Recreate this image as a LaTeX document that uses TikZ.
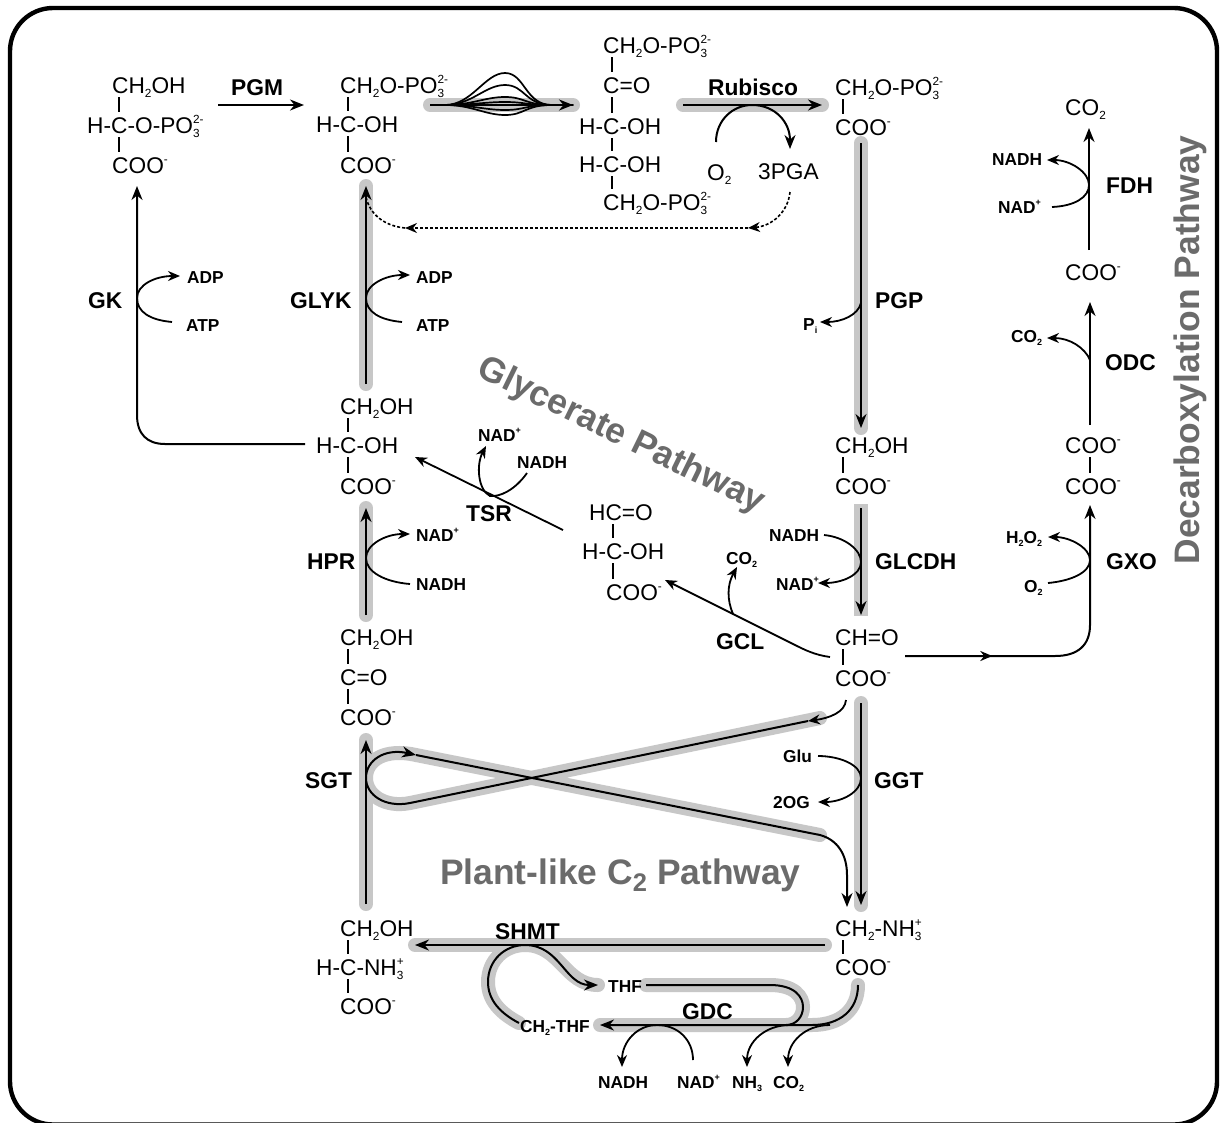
\documentclass[tikz,border=0pt]{standalone}
\usepackage{fontspec}
\usepackage{graphicx}
\setmainfont{Liberation Sans}
\usetikzlibrary{arrows.meta,calc,decorations.markings}
\definecolor{hlgray}{gray}{0.78}
\definecolor{pathgray}{gray}{0.42}
\newcommand\sbs[1]{\raisebox{-.2em}{\scalebox{.52}{#1}}}
\newcommand\sps[1]{\raisebox{.42em}{\scalebox{.52}{#1}}}
\newcommand\sbsp[2]{\makebox[0pt][l]{\sps{#2}}\sbs{#1}}
\newcommand\bond[3]{\coordinate (tmpb) at ([shift={(0,-21)}]#2.base);\draw[bondline] ([shift={(#3,4)}]#1.base west) -- ([shift={(#3,0)}]#1.base west |- tmpb);}
\newcommand\Pt[3]{\coordinate (#1) at (#2,#3);}
\newcommand\CHEM[4]{\node[chem] (#1) at (#2,#3) {#4};}
\newcommand\ENZ[4]{\node[enz] (#1) at (#2,#3) {#4};}
\newcommand\COF[4]{\node[cof] (#1) at (#2,#3) {#4};}
\tikzset{
  chem/.style={inner sep=0pt,anchor=base west,font=\fontsize{22.7}{22.7}\selectfont},
  enz/.style={inner sep=0pt,anchor=base west,font=\fontsize{22.8}{22.8}\selectfont\bfseries},
  cof/.style={inner sep=0pt,anchor=base west,font=\fontsize{17.3}{17.3}\selectfont\bfseries},
  pathlabel/.style={inner sep=0pt,text=pathgray,font=\fontsize{35.4}{35.4}\selectfont\bfseries},
  bondline/.style={line width=1.7pt,color=black},
  hl/.style={line width=14pt,color=hlgray,line cap=round},
  hlbutt/.style={line width=14pt,color=hlgray},
  mainarrow/.style={line width=2pt,color=black,-{Stealth[length=14pt,width=11pt]}},
  thinarrow/.style={line width=1.8pt,color=black,-{Stealth[length=12pt,width=10pt]}},
  plainline/.style={line width=2pt,color=black},
  dashline/.style={line width=1.6pt,color=black,dash pattern=on 3pt off 2pt},
}
\begin{document}
\begin{tikzpicture}[x=1pt,y=-1pt]
\useasboundingbox (0,0) rectangle (1222,1122);
\fill[white] (0,0) rectangle (1222,1122);
\begin{scope}
\clip (0,0) rectangle (1222,1122);
\draw[line width=4.4pt,rounded corners=43pt] (10,8) rectangle (1217,1124.5);
\end{scope}

% ---------- named ends of the connectors
\Pt{rua}{430}{105}\Pt{rub}{573}{105}
\Pt{rba}{683}{105}\Pt{rbb}{822}{105}
\Pt{pgma}{218}{105}\Pt{pgmb}{304}{105}
\Pt{gkup}{137}{186}\Pt{gkout}{305}{444}
\Pt{glykb}{366}{384}\Pt{glykt}{366}{186}
\Pt{pgpt}{861}{143}\Pt{pgpb}{861}{428}
\Pt{glct}{861}{508}\Pt{glcb}{861}{615}
\Pt{hprb}{366}{615}\Pt{hprt}{366}{508}
\Pt{sgtb}{366}{904}\Pt{sgtt}{366}{740}
\Pt{ggtt}{861}{703}\Pt{ggtb}{861}{905}
\Pt{shr}{825}{945}\Pt{shl}{415}{945}
\Pt{la}{820}{718}\Pt{lb}{808}{721}\Pt{lc}{416}{755}\Pt{ld}{820}{835}\Pt{le}{847}{907}
\Pt{gdct}{646}{985}\Pt{gdce}{786}{1025}
\Pt{gdcs}{858}{985}\Pt{gdcl}{600}{1025}
\Pt{thft}{598}{985}\Pt{chta}{519}{1023}

% ---------- grey highlights
\draw[hl] (rua) -- (rub);
\draw[hl] (rba) -- (rbb);
\draw[hl] (glykb) -- (glykt);
\draw[hl] (pgpt) -- (pgpb);
\draw[hlbutt] (861,504) -- (861,616);
\draw[hl] (hprb) -- (hprt);
\draw[hl] (sgtb) -- (sgtt);
\draw[hl] (ggtt) -- (ggtb);
\draw[hl] (shr) -- (shl);
\draw[hl] (la) -- (410,803) .. controls (385,808) and (366,795) .. (366,778) .. controls (366,760) and (385,748) .. (lc) -- (ld);
\draw[hl] (chta) .. controls (500,1013) and (488,1000) .. (488,982) .. controls (488,960) and (505,945) .. (525,945) .. controls (560,945) and (565,985) .. (thft);
\draw[hl] (gdct) -- (770,985) .. controls (795,985) and (803,997) .. (803,1007) .. controls (803,1017) and (796,1025) .. (gdce);
\draw[hl] (gdcs) .. controls (858,1010) and (840,1025) .. (812,1025) -- (gdcl);

% ---------- molecules
\CHEM{aa}{112}{93}{CH\sbs{2}OH}
\CHEM{ab}{87}{133}{H-C-O-PO\sbsp{3}{2-}}
\CHEM{ac}{112}{173}{COO\sps{-}}
\bond{aa}{ab}{7}\bond{ab}{ac}{32}
\CHEM{ba}{340}{93}{CH\sbs{2}O-PO\sbsp{3}{2-}}
\CHEM{bb}{316}{132}{H-C-OH}
\CHEM{bc}{340}{173}{COO\sps{-}}
\bond{ba}{bb}{8}\bond{bb}{bc}{32}
\CHEM{ca}{603}{53}{CH\sbs{2}O-PO\sbsp{3}{2-}}
\CHEM{cb}{603}{93}{C=O}
\CHEM{cc}{579}{134}{H-C-OH}
\CHEM{cd}{579}{172}{H-C-OH}
\CHEM{ce}{603}{210}{CH\sbs{2}O-PO\sbsp{3}{2-}}
\bond{ca}{cb}{9}\bond{cb}{cc}{9}\bond{cc}{cd}{33}\bond{cd}{ce}{33}
\CHEM{da}{835}{95}{CH\sbs{2}O-PO\sbsp{3}{2-}}
\CHEM{db}{835}{135}{COO\sps{-}}
\bond{da}{db}{8}
\CHEM{ea}{835}{453}{CH\sbs{2}OH}
\CHEM{eb}{835}{494}{COO\sps{-}}
\bond{ea}{eb}{8}
\CHEM{fa}{835}{645}{CH=O}
\CHEM{fb}{835}{686}{COO\sps{-}}
\bond{fa}{fb}{8}
\CHEM{ga}{835}{936}{CH\sbs{2}-NH\sbsp{3}{+}}
\CHEM{gb}{835}{975}{COO\sps{-}}
\bond{ga}{gb}{8}
\CHEM{ha}{340}{936}{CH\sbs{2}OH}
\CHEM{hb}{316}{975}{H-C-NH\sbsp{3}{+}}
\CHEM{hc}{340}{1014}{COO\sps{-}}
\bond{ha}{hb}{8}\bond{hb}{hc}{32}
\CHEM{ia}{340}{645}{CH\sbs{2}OH}
\CHEM{ib}{340}{685}{C=O}
\CHEM{ic}{340}{725}{COO\sps{-}}
\bond{ia}{ib}{8}\bond{ib}{ic}{8}
\CHEM{ja}{340}{414}{CH\sbs{2}OH}
\CHEM{jb}{316}{453}{H-C-OH}
\CHEM{jc}{340}{494}{COO\sps{-}}
\bond{ja}{jb}{8}\bond{jb}{jc}{32}
\CHEM{ka}{589}{520}{HC=O}
\CHEM{kb}{582}{559}{H-C-OH}
\CHEM{kc}{606}{600}{COO\sps{-}}
\bond{ka}{kb}{24}\bond{kb}{kc}{31}
\CHEM{la1}{1065}{453}{COO\sps{-}}
\CHEM{la2}{1065}{494}{COO\sps{-}}
\bond{la1}{la2}{25}
\CHEM{ma}{1065}{280}{COO\sps{-}}
\CHEM{mb}{1065}{115}{CO\sbs{2}}
\CHEM{otwo}{707}{180}{O\sbs{2}}
\CHEM{tpga}{758}{179}{3PGA}

% ---------- enzymes
\ENZ{pgm}{231}{95}{PGM}
\node[inner sep=0pt,anchor=base,font=\fontsize{22.8}{22.8}\selectfont\bfseries] (rubisco) at (753,95) {Rubisco};
\ENZ{gk}{88}{308}{GK}
\ENZ{glyk}{290}{308}{GLYK}
\ENZ{pgp}{875}{308}{PGP}
\ENZ{hpr}{307}{569}{HPR}
\ENZ{tsr}{466}{521}{TSR}
\ENZ{gcl}{716}{649}{GCL}
\ENZ{glcdh}{875}{569}{GLCDH}
\ENZ{sgt}{305}{788}{SGT}
\ENZ{ggt}{874}{788}{GGT}
\ENZ{shmt}{495}{939}{SHMT}
\ENZ{gdc}{682}{1019}{GDC}
\ENZ{fdh}{1106}{193}{FDH}
\ENZ{odc}{1105}{370}{ODC}
\ENZ{gxo}{1106}{569}{GXO}

% ---------- cofactors
\COF{adpa}{187}{283}{ADP}
\COF{atpa}{186}{331}{ATP}
\COF{adpb}{416}{283}{ADP}
\COF{atpb}{416}{331}{ATP}
\COF{pi}{803}{330}{P\sbs{i}}
\COF{nadpa}{416}{541}{NAD\sps{+}}
\COF{nadha}{416}{590}{NADH}
\COF{nadpb}{478}{441}{NAD\sps{+}}
\COF{nadhb}{517}{468}{NADH}
\COF{nadhc}{769}{541}{NADH}
\COF{nadpc}{776}{590}{NAD\sps{+}}
\COF{cotwoa}{726}{564}{CO\sbs{2}}
\COF{glu}{783}{762}{Glu}
\COF{twoog}{773}{808}{2OG}
\COF{thf}{608}{992}{THF}
\COF{chthf}{520}{1032}{CH\sbs{2}-THF}
\COF{nadhd}{598}{1088}{NADH}
\COF{nadpd}{677}{1088}{NAD\sps{+}}
\COF{nhthree}{732}{1088}{NH\sbs{3}}
\COF{cotwob}{773}{1088}{CO\sbs{2}}
\COF{nadhe}{992}{165}{NADH}
\COF{nadpe}{998}{213}{NAD\sps{+}}
\COF{cotwoc}{1011}{342}{CO\sbs{2}}
\COF{hto}{1006}{543}{H\sbs{2}O\sbs{2}}
\COF{otwob}{1024}{592}{O\sbs{2}}

% ---------- pathway titles
\node[pathlabel,rotate=-26] (glycerate) at (621,436) {Glycerate Pathway};
\node[pathlabel,anchor=base west] (plant) at (440,884) {Plant-like C\raisebox{-.2em}{\scalebox{.72}{2}} Pathway};
\node[pathlabel,rotate=90] (decarb) at (1190,350) {Decarboxylation Pathway};

% ---------- main connectors
\draw[mainarrow] (pgma) -- (pgmb);
\foreach \p in {73,85,97,102,110,115}
  \draw[plainline,line width=1.7pt] (rua) -- (445,105) .. controls (472,105) and (485,\p) .. (505,\p) .. controls (525,\p) and (525,105) .. (552,105) -- (rub);
\draw[mainarrow] (rua) -- (rub);
\draw[mainarrow] (rba) -- (rbb);
\draw[mainarrow] (716,142) .. controls (716,120) and (733,105) .. (752,105) .. controls (775,105) and (790,122) .. (790,149);
\draw[mainarrow] (glykb) -- (glykt);
\draw[mainarrow] (gkout) -- (165,444) .. controls (147,444) and (137,434) .. (137,415) -- (gkup);
\draw[mainarrow] (pgpt) -- (pgpb);
\draw[mainarrow] (glct) -- (glcb);
\draw[mainarrow] (hprb) -- (hprt);
\draw[mainarrow] (sgtb) -- (sgtt);
\draw[mainarrow] (ggtt) -- (ggtb);
\draw[mainarrow] (shr) -- (shl);
\draw[mainarrow] (lb) -- (410,803) .. controls (385,808) and (366,795) .. (366,778) .. controls (366,760) and (385,748) .. (lc);
\draw[mainarrow] (lc) -- (ld) .. controls (838,840) and (847,855) .. (847,875) -- (le);
\draw[plainline] (gdct) -- (770,985) .. controls (795,985) and (803,997) .. (803,1007) .. controls (803,1017) and (796,1025) .. (gdce);
\draw[mainarrow] (gdcs) .. controls (858,1010) and (840,1025) .. (812,1025) -- (gdcl);
\draw[mainarrow] (chta) .. controls (500,1013) and (488,1000) .. (488,982) .. controls (488,960) and (505,945) .. (525,945) .. controls (560,945) and (565,985) .. (thft);

% dashed return of 3PGA
\draw[dashline,-{Stealth[length=12pt,width=10pt]}] (790,192) .. controls (788,212) and (772,226) .. (748,228);
\draw[dashline,-{Stealth[length=12pt,width=10pt]}] (748,228) -- (405,228);
\draw[dashline] (405,228) .. controls (385,226) and (370,215) .. (366,197);

% cofactor curves
\draw[thinarrow] (172,322) .. controls (150,320) and (137,312) .. (137,298) .. controls (137,285) and (155,276) .. (180,276);
\draw[thinarrow] (402,322) .. controls (380,320) and (366,312) .. (366,298) .. controls (366,285) and (385,275) .. (410,275);
\draw[thinarrow] (861,303) .. controls (858,315) and (842,322) .. (820,322);
\draw[thinarrow] (410,584) .. controls (385,582) and (366,572) .. (366,558) .. controls (366,545) and (385,534) .. (410,534);
\draw[thinarrow] (824,535) .. controls (845,537) and (861,550) .. (861,562) .. controls (861,575) and (842,583) .. (818,583);
\draw[thinarrow] (818,756) .. controls (840,756) and (861,765) .. (861,778) .. controls (861,792) and (842,802) .. (818,802);
\draw[thinarrow] (846,700) .. controls (845,712) and (830,718) .. (lb);
\draw[thinarrow] (693,1060) .. controls (693,1040) and (678,1025) .. (657,1025) .. controls (637,1025) and (622,1042) .. (622,1067);
\draw[thinarrow] (790,1025) .. controls (765,1025) and (747,1042) .. (747,1067);
\draw[thinarrow] (830,1025) .. controls (805,1025) and (788,1042) .. (788,1067);
\draw[thinarrow] (830,657) .. controls (815,655) and (805,650) .. (795,645) -- (665,580);
\draw[thinarrow] (733,614) .. controls (727,600) and (727,585) .. (737,567);
\draw[thinarrow] (563,530) -- (415,457);
\draw[thinarrow] (527,473) .. controls (515,490) and (500,497) .. (490,496) .. controls (478,490) and (476,465) .. (486,446);
% right-hand column
\draw[mainarrow,postaction={decorate},decoration={markings,mark=at position 0.27 with {\arrow{Stealth[length=12pt,width=10pt]}}}] (905,656) -- (1055,656) .. controls (1078,656) and (1090,645) .. (1090,625) -- (1090,505);
\draw[thinarrow] (1048,583) .. controls (1070,581) and (1090,573) .. (1090,560) .. controls (1090,548) and (1070,537) .. (1048,537);
\draw[mainarrow] (1090,425) -- (1090,302);
\draw[thinarrow] (1090,360) .. controls (1085,348) and (1070,338) .. (1047,338);
\draw[mainarrow] (1089,250) -- (1089,128);
\draw[thinarrow] (1052,207) .. controls (1075,206) and (1089,197) .. (1089,185) .. controls (1089,172) and (1070,160) .. (1047,160);
\end{tikzpicture}
\end{document}
